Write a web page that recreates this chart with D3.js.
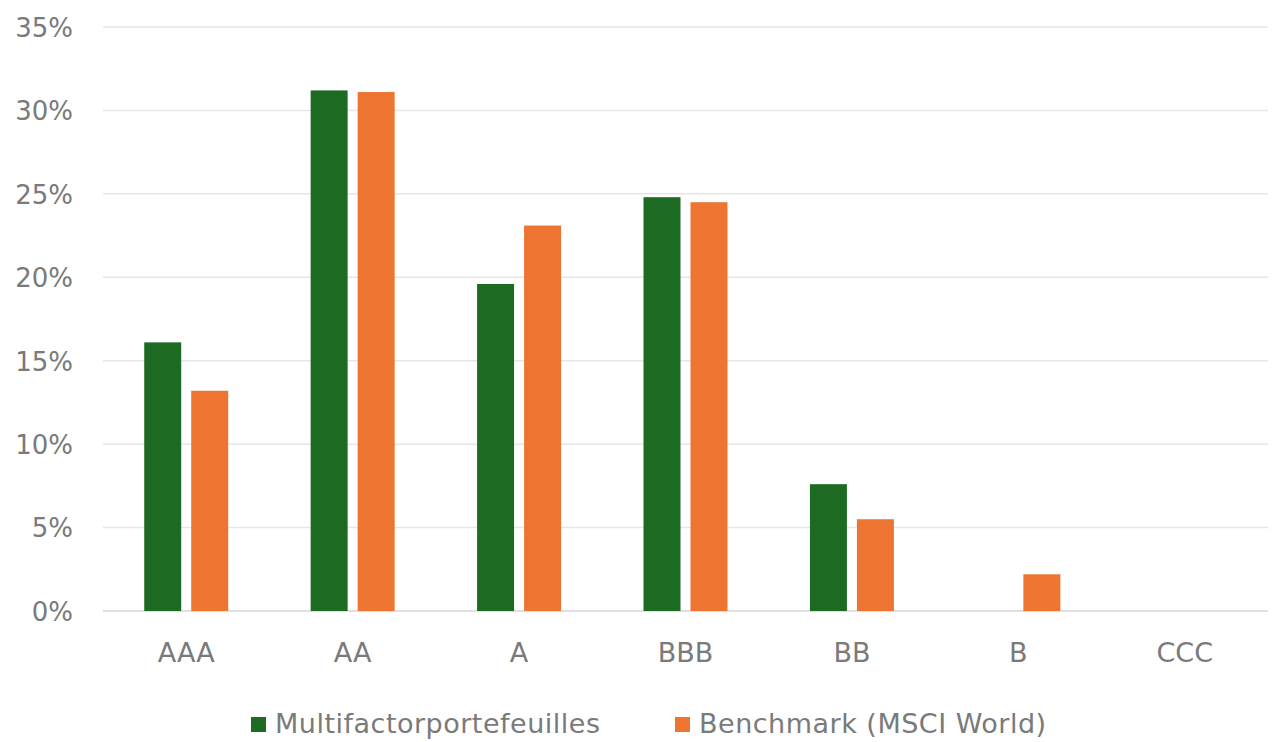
<!DOCTYPE html>
<html>
<head>
<meta charset="utf-8">
<script src="https://cdn.jsdelivr.net/npm/d3@7"></script>
<style>
  html, body { margin: 0; padding: 0; background: #fff; }
  svg { display: block; }
  text { font-family: "DejaVu Sans", "Open Sans", sans-serif; fill: #7a7a7a; }
</style>
</head>
<body>
<svg id="chart" width="1273" height="742"></svg>
<script>
const categories = ["AAA", "AA", "A", "BBB", "BB", "B", "CCC"];
const seriesNames = ["Multifactorportefeuilles", "Benchmark (MSCI World)"];
const multifactor = [16.1, 31.2, 19.6, 24.8, 7.6, 0, 0];
const benchmark = [13.2, 31.1, 23.1, 24.5, 5.5, 2.2, 0];
const yTicks = [0, 5, 10, 15, 20, 25, 30, 35];
const colors = ["#1d6b23", "#ed7531"];

const svg = d3.select("#chart");
const margin = { left: 103, right: 5, top: 27, bottom: 131 };
const W = 1273, H = 742;

const x0 = d3.scaleBand().domain(categories).range([margin.left, W - margin.right]).paddingInner(0).paddingOuter(0);
const x1 = d3.scaleBand().domain(seriesNames).range([0, x0.bandwidth()]).paddingInner(0.213).paddingOuter(0.877);
const y = d3.scaleLinear().domain([0, 35]).range([H - margin.bottom, margin.top]);

// gridlines
svg.append("g").selectAll("line").data(yTicks).join("line")
  .attr("x1", margin.left).attr("x2", W - margin.right)
  .attr("y1", d => y(d)).attr("y2", d => y(d))
  .attr("stroke", d => d === 0 ? "#d6d6d6" : "#e6e6e6").attr("stroke-width", 1.5);

// y axis labels
const yAxis = d3.axisLeft(y).tickValues(yTicks).tickFormat(d => d + "%").tickSize(0).tickPadding(0);
const gy = svg.append("g").attr("transform", `translate(73,0)`).call(yAxis);
gy.select(".domain").remove();
gy.selectAll("text").style("font-size", "26px").attr("fill", "#7a7a7a").attr("dy", "0.36em");

// x axis labels
const xAxis = d3.axisBottom(x0).tickSize(0).tickPadding(0);
const gx = svg.append("g").attr("transform", `translate(0,${H - margin.bottom + 32})`).call(xAxis);
gx.select(".domain").remove();
gx.selectAll("text").style("font-size", "27px").attr("fill", "#7a7a7a").attr("dy", "0.71em");

// bars
const data = categories.map((c, i) => ({ cat: c, vals: [multifactor[i], benchmark[i]] }));
const groups = svg.append("g").selectAll("g").data(data).join("g")
  .attr("transform", d => `translate(${x0(d.cat)},0)`);
groups.selectAll("rect").data(d => d.vals.map((v, j) => ({ v, s: seriesNames[j], j })))
  .join("rect")
  .filter(d => d.v > 0)
  .attr("x", d => x1(d.s))
  .attr("width", x1.bandwidth())
  .attr("y", d => y(d.v))
  .attr("height", d => y(0) - y(d.v))
  .attr("fill", d => colors[d.j]);

// legend
const legendX = [251, 675];
const leg = svg.append("g").selectAll("g").data(seriesNames).join("g")
  .attr("transform", (d, i) => `translate(${legendX[i]},724)`);
leg.append("rect").attr("x", 0).attr("y", -7).attr("width", 15).attr("height", 15)
  .attr("fill", (d, i) => colors[i]);
leg.append("text").attr("x", 24).attr("y", 0).attr("dy", "0.35em")
  .style("font-size", "27px").style("letter-spacing", "0.5px").attr("fill", "#7a7a7a").text(d => d);
</script>
</body>
</html>
